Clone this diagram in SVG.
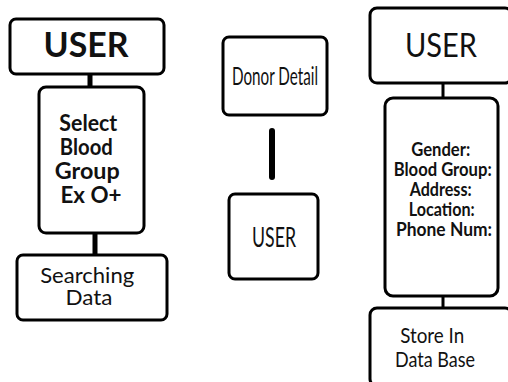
<svg xmlns="http://www.w3.org/2000/svg" width="508" height="382" viewBox="0 0 508 382">
<style>
.box{fill:#fff;stroke:#000;stroke-width:3}
.t{font-family:Lato,"Open Sans",sans-serif;fill:#111;text-anchor:middle}
.b{font-weight:700}
.con line{stroke:#000;stroke-linecap:round}
</style>
<rect width="508" height="382" fill="#fff"/>
<g class="con">
<line x1="90" y1="74" x2="90" y2="88" stroke-width="5"/>
<line x1="95" y1="233" x2="95" y2="255" stroke-width="5"/>
<line x1="272" y1="131" x2="272" y2="177" stroke-width="6"/>
<line x1="443" y1="83" x2="443" y2="98" stroke-width="3"/>
<line x1="443" y1="296" x2="443" y2="309" stroke-width="3"/>
</g>
<g id="user1">
<rect class="box" x="10" y="19" width="154" height="55" rx="6"/>
<text class="t b" x="86" y="57" font-size="35" textLength="85" lengthAdjust="spacingAndGlyphs">USER</text>
</g>
<g id="select">
<rect class="box" x="39" y="87" width="105" height="146" rx="7"/>
<text class="t b" font-size="22">
<tspan x="91" y="131" textLength="58" lengthAdjust="spacingAndGlyphs">Select</tspan>
<tspan x="89" y="155" textLength="53" lengthAdjust="spacingAndGlyphs">Blood</tspan>
<tspan x="90" y="179" textLength="65" lengthAdjust="spacingAndGlyphs">Group</tspan>
<tspan x="91" y="203" textLength="61" lengthAdjust="spacingAndGlyphs">Ex O+</tspan>
</text>
</g>
<g id="search">
<rect class="box" x="17" y="255" width="150" height="65" rx="6"/>
<text class="t" font-size="22">
<tspan x="90" y="283" textLength="94" lengthAdjust="spacingAndGlyphs">Searching</tspan>
<tspan x="89" y="305" textLength="47" lengthAdjust="spacingAndGlyphs">Data</tspan>
</text>
</g>
<g id="donor">
<rect class="box" x="223" y="37" width="104" height="78" rx="6"/>
<text class="t" x="275" y="85" font-size="25" textLength="86" lengthAdjust="spacingAndGlyphs">Donor Detail</text>
</g>
<g id="user2">
<rect class="box" x="229" y="194" width="89" height="85" rx="6"/>
<text class="t" x="274" y="247" font-size="27" textLength="44" lengthAdjust="spacingAndGlyphs">USER</text>
</g>
<g id="user3">
<rect class="box" x="370" y="8" width="142" height="75" rx="7"/>
<text class="t" x="441" y="57" font-size="33" textLength="72" lengthAdjust="spacingAndGlyphs">USER</text>
</g>
<g id="fields">
<rect class="box" x="385" y="98" width="113" height="198" rx="8"/>
<text class="t b" font-size="19">
<tspan x="443" y="156" textLength="59" lengthAdjust="spacingAndGlyphs">Gender:</tspan>
<tspan x="445" y="176" textLength="98" lengthAdjust="spacingAndGlyphs">Blood Group:</tspan>
<tspan x="443" y="196" textLength="62" lengthAdjust="spacingAndGlyphs">Address:</tspan>
<tspan x="444" y="216" textLength="66" lengthAdjust="spacingAndGlyphs">Location:</tspan>
<tspan x="444" y="236" textLength="96" lengthAdjust="spacingAndGlyphs">Phone Num:</tspan>
</text>
</g>
<g id="store">
<rect class="box" x="370" y="308" width="142" height="78" rx="7"/>
<text class="t" font-size="22">
<tspan x="435" y="343" textLength="64" lengthAdjust="spacingAndGlyphs">Store In</tspan>
<tspan x="435" y="367" textLength="80" lengthAdjust="spacingAndGlyphs">Data Base</tspan>
</text>
</g>
</svg>
